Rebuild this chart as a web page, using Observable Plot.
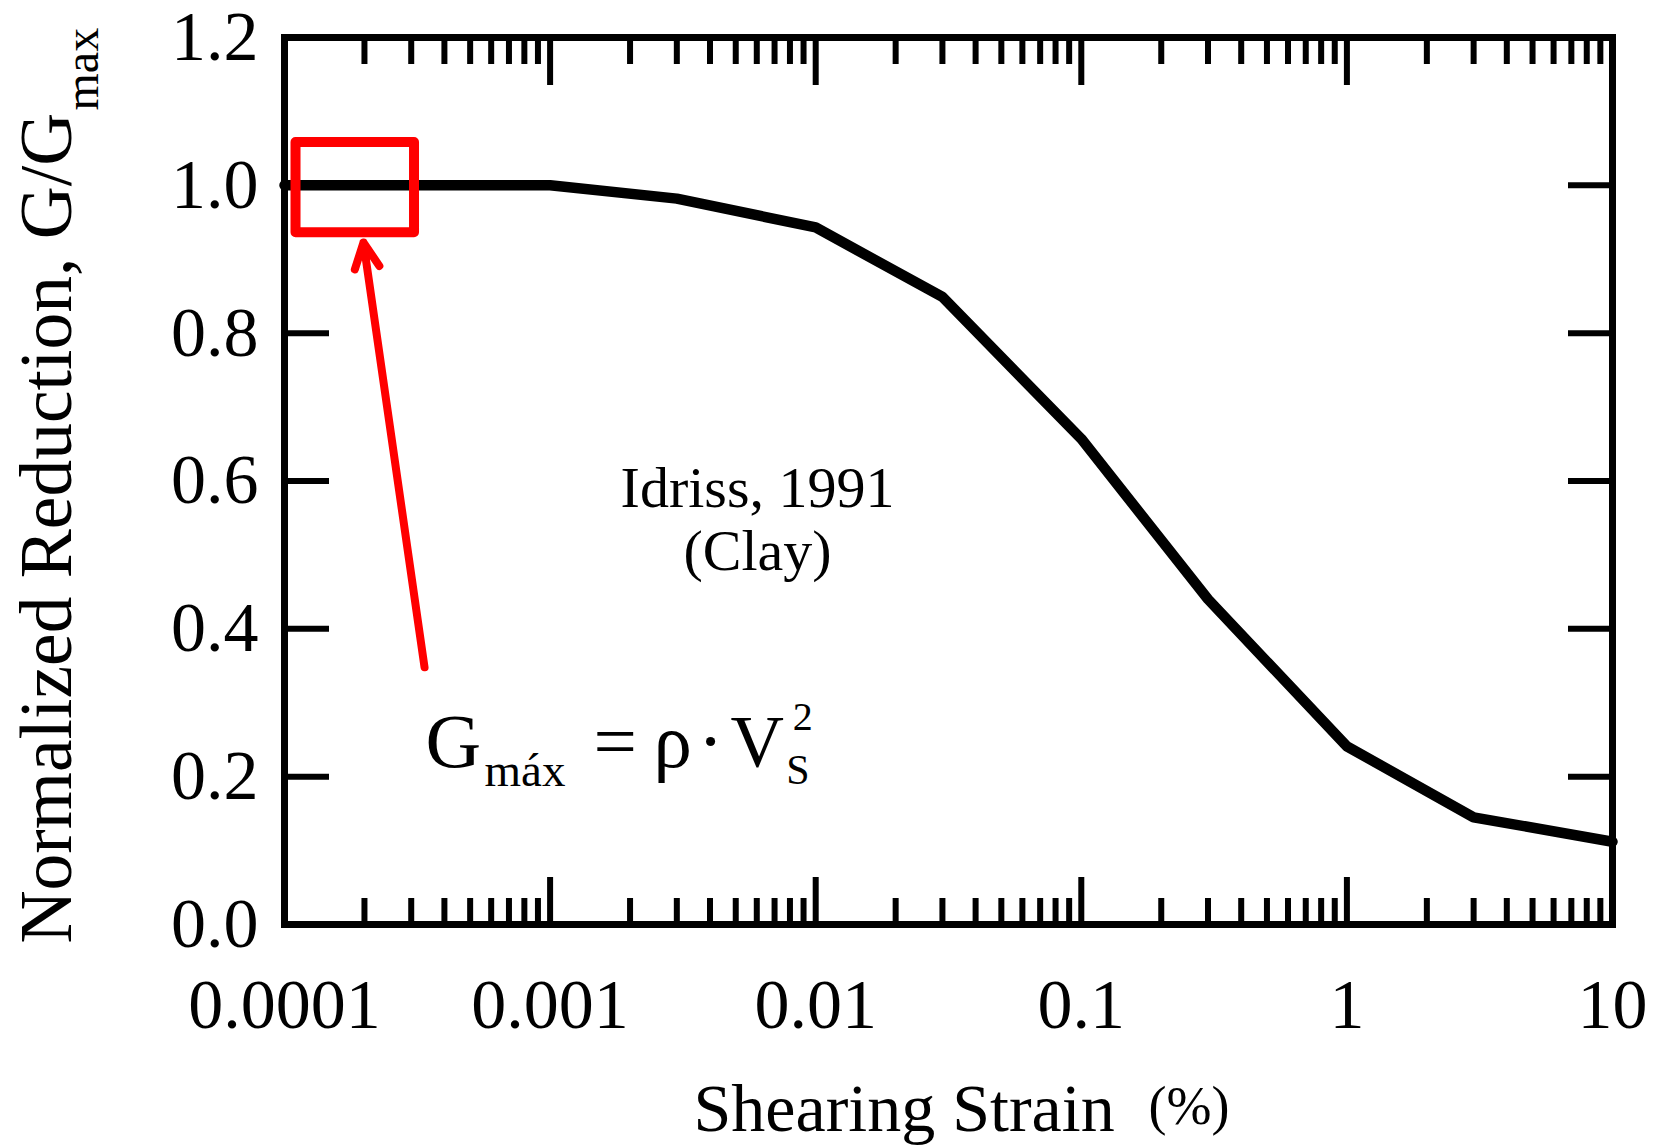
<!DOCTYPE html>
<html>
<head>
<meta charset="utf-8">
<script src="https://cdn.jsdelivr.net/npm/d3@7"></script>
<script src="https://cdn.jsdelivr.net/npm/@observablehq/plot@0.6"></script>
<style>
  html, body { margin: 0; padding: 0; background: #fff; }
</style>
</head>
<body>
<div id="chart"></div>
<script>
// ---- data (Idriss, 1991 – Clay) ----
const strain = [0.0001, 0.0003, 0.001, 0.003, 0.01, 0.03, 0.1, 0.3, 1, 3, 10];
const ratio  = [1.0, 1.0, 1.0, 0.982, 0.943, 0.849, 0.657, 0.44, 0.241, 0.145, 0.112];

// ---- axes ----
const xMajor = [0.0001, 0.001, 0.01, 0.1, 1, 10];
const xTickLabels = ["0.0001", "0.001", "0.01", "0.1", "1", "10"];
const minorMultipliers = [2, 3, 4, 5, 6, 7, 8, 9];
const yTicks = [0, 0.2, 0.4, 0.6, 0.8, 1.0, 1.2];
const yTickLabels = ["0.0", "0.2", "0.4", "0.6", "0.8", "1.0", "1.2"];

const xMinor = xMajor.slice(0, -1).flatMap(d => minorMultipliers.map(m => m * d));
const curve = strain.map((s, i) => ({strain: s, ratio: ratio[i]}));

const serif = "'Liberation Serif', 'Times New Roman', serif";
const red = "#ff0000";

const tickStyle = {strokeWidth: 6, stroke: "black", fill: "none", label: null};

const chart = Plot.plot({
  width: 1661,
  height: 1145,
  marginLeft: 284,
  marginRight: 49,
  marginTop: 37,
  marginBottom: 221,
  style: {fontFamily: serif, fontSize: "70px", color: "black", background: "white", overflow: "visible"},
  x: {type: "log", domain: [1e-4, 10]},
  y: {domain: [0, 1.2]},
  marks: [
    // inward tick marks on all four sides
    Plot.axisX(xMinor, {anchor: "bottom", tickSize: -26, ...tickStyle}),
    Plot.axisX(xMajor, {anchor: "bottom", tickSize: -47, ...tickStyle}),
    Plot.axisX(xMinor, {anchor: "top", tickSize: -26, ...tickStyle}),
    Plot.axisX(xMajor, {anchor: "top", tickSize: -47, ...tickStyle}),
    Plot.axisY(yTicks, {anchor: "left", tickSize: -45, ...tickStyle}),
    Plot.axisY(yTicks, {anchor: "right", tickSize: -45, ...tickStyle}),
    // tick labels
    Plot.axisX(xMajor, {anchor: "bottom", tickSize: 0, tickPadding: 54, fontSize: 70, fill: "black",
      tickFormat: d => xTickLabels[xMajor.indexOf(d)], label: null}),
    Plot.axisY(yTicks, {anchor: "left", tickSize: 0, tickPadding: 26, fontSize: 70, fill: "black",
      tickFormat: d => yTickLabels[yTicks.indexOf(d)], label: null}),
    Plot.frame({stroke: "black", strokeWidth: 7}),
    // curve
    Plot.line(curve, {x: "strain", y: "ratio", stroke: "black", strokeWidth: 10.5,
      strokeLinecap: "round", strokeLinejoin: "round"}),
    // red highlight box + arrow
    Plot.rect([{x1: 1.105e-4, x2: 3.087e-4, y1: 0.936, y2: 1.058}],
      {x1: "x1", x2: "x2", y1: "y1", y2: "y2", fill: "none", stroke: red, strokeWidth: 10,
       strokeLinejoin: "round"}),
    Plot.arrow([{x1: 3.367e-4, y1: 0.348, x2: 1.983e-4, y2: 0.9226}],
      {x1: "x1", y1: "y1", x2: "x2", y2: "y2", stroke: red, strokeWidth: 8,
       headLength: 5.3, headAngle: 52, strokeLinecap: "round", strokeLinejoin: "round"}),
    // annotation
    Plot.text([{x: 0.00604, y: 0.479, t: "Idriss, 1991\n(Clay)"}],
      {x: "x", y: "y", text: "t", fontSize: 58, lineHeight: 1.1, textAnchor: "middle",
       lineAnchor: "bottom", fill: "black"}),
    // formula G_máx = ρ · V_S^2
    Plot.text([{x: 3.397e-4, y: 0.2137, t: "G"}], {x: "x", y: "y", text: "t", fontSize: 77, textAnchor: "start", lineAnchor: "bottom"}),
    Plot.text([{x: 5.662e-4, y: 0.188, t: "máx"}], {x: "x", y: "y", text: "t", fontSize: 47, textAnchor: "start", lineAnchor: "bottom"}),
    Plot.text([{x: 1.457e-3, y: 0.2137, t: "="}], {x: "x", y: "y", text: "t", fontSize: 77, textAnchor: "start", lineAnchor: "bottom"}),
    Plot.text([{x: 2.451e-3, y: 0.2137, t: "ρ"}], {x: "x", y: "y", text: "t", fontSize: 77, textAnchor: "start", lineAnchor: "bottom"}),
    Plot.text([{x: 4.017e-3, y: 0.2137, t: "·"}], {x: "x", y: "y", text: "t", fontSize: 77, textAnchor: "middle", lineAnchor: "bottom"}),
    Plot.text([{x: 4.777e-3, y: 0.2137, t: "V"}], {x: "x", y: "y", text: "t", fontSize: 74, textAnchor: "start", lineAnchor: "bottom"}),
    Plot.text([{x: 7.75e-3, y: 0.1907, t: "S"}], {x: "x", y: "y", text: "t", fontSize: 42, textAnchor: "start", lineAnchor: "bottom"}),
    Plot.text([{x: 8.2e-3, y: 0.2638, t: "2"}], {x: "x", y: "y", text: "t", fontSize: 40, textAnchor: "start", lineAnchor: "bottom"}),
    // axis titles
    Plot.text(["Normalized Reduction, G/G"], {frameAnchor: "bottom-left", dx: -214, dy: 19, rotate: -90,
      textAnchor: "start", lineAnchor: "bottom", fontSize: 73.5, fill: "black"}),
    Plot.text(["max"], {frameAnchor: "top-left", dx: -187, dy: 73, rotate: -90,
      textAnchor: "start", lineAnchor: "bottom", fontSize: 48, fill: "black"}),
    Plot.text(["Shearing Strain"], {frameAnchor: "bottom-left", dx: 409, dy: 206,
      textAnchor: "start", lineAnchor: "bottom", fontSize: 68, fill: "black"}),
    Plot.text(["(%)"], {frameAnchor: "bottom-left", dx: 864, dy: 199,
      textAnchor: "start", lineAnchor: "bottom", fontSize: 54, fill: "black"})
  ]
});

document.getElementById("chart").appendChild(chart);
</script>
</body>
</html>
